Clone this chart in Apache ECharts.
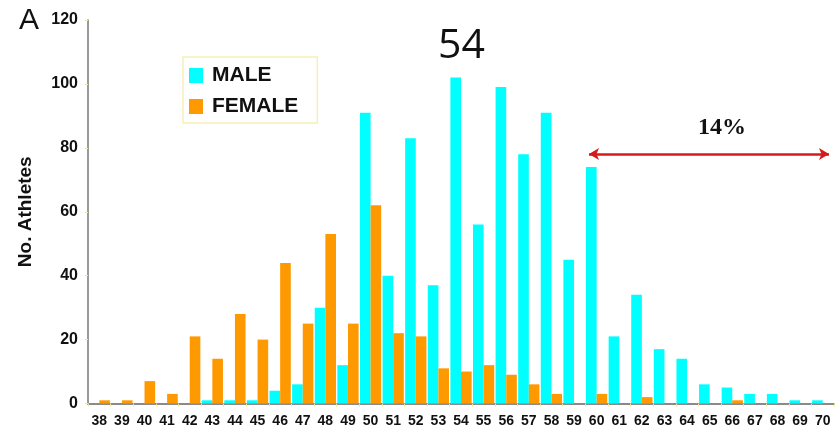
<!DOCTYPE html>
<html>
<head>
<meta charset="utf-8">
<script src="https://cdn.jsdelivr.net/npm/echarts@6/dist/echarts.min.js"></script>
<style>
  html, body { margin: 0; padding: 0; background: #fff; }
  #bar-chart { width: 838px; height: 433px; }
</style>
</head>
<body>
<div id="bar-chart"></div>
<script>
var ages = ['38','39','40','41','42','43','44','45','46','47','48','49','50','51','52','53','54',
            '55','56','57','58','59','60','61','62','63','64','65','66','67','68','69','70'];
var male = [0, 0, 0, 0, 0, 1, 1, 1, 4, 6, 30, 12, 91, 40, 83, 37, 102,
            56, 99, 78, 91, 45, 74, 21, 34, 17, 14, 6, 5, 3, 3, 1, 1];
var female = [1, 1, 7, 3, 21, 14, 28, 20, 44, 25, 53, 25, 62, 22, 21, 11, 10,
              12, 9, 6, 3, 0, 3, 0, 2, 0, 0, 0, 1, 0, 0, 0, 0];
var yTicks = [0, 20, 40, 60, 80, 100, 120];

var myChart = echarts.init(document.getElementById('bar-chart'));

var font = '"Liberation Sans", Arial, sans-serif';

option = {
    animation: false,
    color: ['#00ffff', '#ff9900'],
    title: [
        { text: 'A', left: 14, top: 1, textStyle: { fontFamily: font, fontSize: 30, fontWeight: 'normal', color: '#111' } },
        { text: '54', left: 433, top: 21, textStyle: { fontFamily: '"Open Sans", sans-serif', fontSize: 41, fontWeight: 'normal', color: '#111' } },
        { text: '14%', left: 693, top: 111, textStyle: { fontFamily: '"Liberation Serif", serif', fontSize: 24, fontWeight: 'bold', color: '#111' } }
    ],
    legend: {
        data: ['MALE', 'FEMALE'],
        orient: 'vertical',
        left: 183,
        top: 57,
        padding: [8, 19, 6, 6],
        itemGap: 10,
        itemWidth: 14,
        itemHeight: 15,
        icon: 'rect',
        borderColor: '#f6f0b8',
        borderWidth: 1.5,
        textStyle: { fontFamily: font, fontSize: 21, fontWeight: 'bold', color: '#111', padding: [0, 0, 0, 4] }
    },
    grid: { left: 88, right: 4, top: 20, bottom: 29.5 },
    xAxis: [
        {
            type: 'category',
            data: ages,
            axisLine: { lineStyle: { color: '#8a8a8a', width: 2 } },
            axisTick: { show: true, length: 3, lineStyle: { color: '#f0e890' } },
            axisLabel: { interval: 0, margin: 11, fontFamily: font, fontSize: 14, fontWeight: 'bold', color: '#111' }
        }
    ],
    yAxis: [
        {
            type: 'value',
            min: yTicks[0],
            max: yTicks[yTicks.length - 1],
            interval: 20,
            name: 'No. Athletes',
            nameLocation: 'middle',
            nameGap: 53,
            nameTextStyle: { fontFamily: font, fontSize: 19, fontWeight: 'bold', color: '#111' },
            splitLine: { show: false },
            axisLine: { show: true, lineStyle: { color: '#777', width: 1.5 } },
            axisTick: { show: true, length: 3, lineStyle: { color: '#f0e890' } },
            axisLabel: { margin: 10, fontFamily: font, fontSize: 16, fontWeight: 'bold', color: '#111' }
        }
    ],
    series: [
        {
            name: 'MALE',
            type: 'bar',
            data: male,
            barGap: '0%',
            barCategoryGap: '6%',
            markLine: {
                silent: true,
                symbol: ['arrow', 'arrow'],
                symbolSize: [9, 10],
                label: { show: false },
                lineStyle: { color: '#d41a1a', width: 2.5, type: 'solid' },
                data: [[{ x: 589, y: 154 }, { x: 829, y: 154 }]]
            }
        },
        {
            name: 'FEMALE',
            type: 'bar',
            data: female
        }
    ]
};

myChart.setOption(option, true);
</script>
</body>
</html>
